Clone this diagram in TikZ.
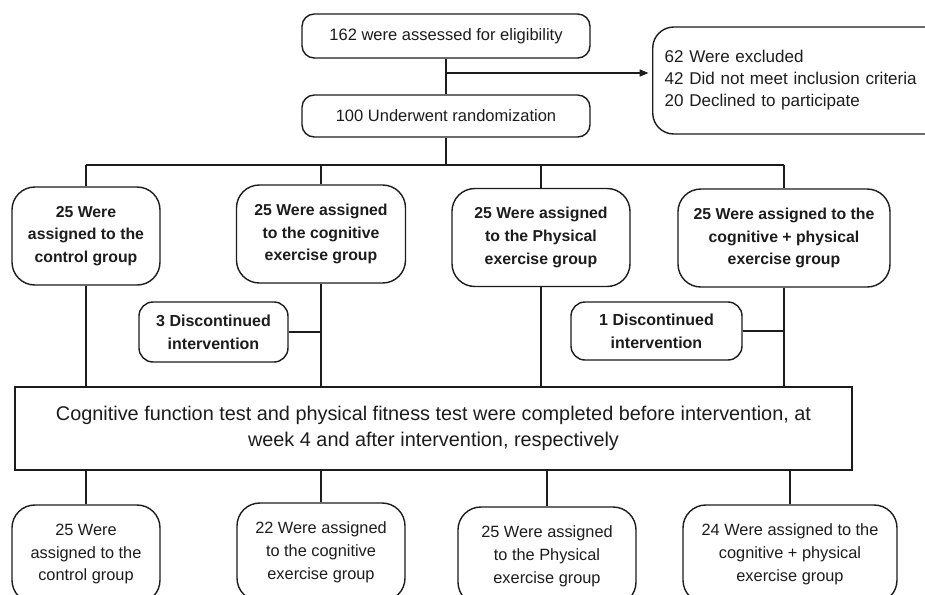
\documentclass[tikz,border=0pt]{standalone}
\usepackage{fontspec}
\setmainfont{Liberation Sans}
\usepackage{xcolor}
\definecolor{inkgray}{RGB}{28, 28, 28}
\usepackage{tikz}
\usetikzlibrary{arrows.meta}

\tikzset{
  link/.style={draw=inkgray,line width=0.8pt},
  flowbox/.style={draw=inkgray,line width=0.8pt,rounded corners=7pt,
    align=center,inner sep=2pt,text=inkgray,font=\fontsize{9.4}{11}\selectfont},
  exclbox/.style={draw=inkgray,line width=0.8pt,rounded corners=12pt,
    align=left,inner sep=0.24cm,text width=5.4cm,minimum height=2.14cm,
    text=inkgray,font=\fontsize{9.7}{12.5}\selectfont},
  groupbox/.style={draw=inkgray,line width=0.8pt,rounded corners=13pt,
    align=center,inner sep=2pt,minimum height=1.96cm,text=inkgray,
    font=\bfseries\fontsize{9}{13}\selectfont},
  dropbox/.style={draw=inkgray,line width=0.8pt,rounded corners=8pt,
    align=center,inner sep=2pt,text=inkgray,
    font=\bfseries\fontsize{9.1}{13}\selectfont},
  testbox/.style={draw=inkgray,line width=0.8pt,align=center,inner sep=2pt,
    text=inkgray,font=\fontsize{11.3}{14.5}\selectfont},
  resultbox/.style={draw=inkgray,line width=0.8pt,rounded corners=13pt,
    align=center,inner sep=2pt,minimum height=1.96cm,text=inkgray,
    font=\fontsize{9.3}{13}\selectfont}
}

\begin{document}
\begin{tikzpicture}
  \useasboundingbox (0,0) rectangle (18.5,-11.88);

  % screening
  \node[flowbox,minimum width=5.76cm,minimum height=0.88cm] (assess) at (8.92,-0.72)
    {162 were assessed for eligibility};
  \node[flowbox,minimum width=5.76cm,minimum height=0.84cm] (random) at (8.92,-2.32)
    {100 Underwent randomization};
  \node[exclbox,anchor=west] (excluded) at (13.04,-1.61)
    {62 Were excluded\\42 Did not meet inclusion criteria\\20 Declined to participate};
  \coordinate (split) at (8.92,-1.46);
  \draw[link] (assess) -- (random);
  \draw[link,-{Triangle[length=5pt,width=4pt]}] (split) -- ([xshift=-2pt]split -| excluded.west);

  % allocation
  \node[groupbox,minimum width=2.96cm] (ctrl) at (1.72,-4.72)
    {25 Were\\assigned to the\\control group};
  \node[groupbox,minimum width=3.38cm] (cogn) at (6.42,-4.68)
    {25 Were assigned\\to the cognitive\\exercise group};
  \node[groupbox,minimum width=3.56cm] (phys) at (10.82,-4.75)
    {25 Were assigned\\to the Physical\\exercise group};
  \node[groupbox,minimum width=4.24cm] (both) at (15.68,-4.76)
    {25 Were assigned to the\\cognitive + physical\\exercise group};
  \coordinate (bus) at (8.92,-3.3);
  \draw[link] (random) -- (bus);
  \draw[link] (ctrl.north |- bus) -- (both.north |- bus);
  \foreach \grp in {ctrl,cogn,phys,both}
    \draw[link] (\grp.north |- bus) -- (\grp.north);

  % dropouts
  \node[dropbox,minimum width=2.98cm,minimum height=1.2cm] (dropcogn) at (4.27,-6.64)
    {3 Discontinued\\intervention};
  \node[dropbox,minimum width=3.42cm,minimum height=1.16cm] (dropboth) at (13.13,-6.62)
    {1 Discontinued\\intervention};

  % tests
  \node[testbox,minimum width=16.74cm,minimum height=1.66cm] (tests) at (8.67,-8.57)
    {Cognitive function test and physical fitness test were completed before intervention, at\\
     week 4 and after intervention, respectively};
  \foreach \grp in {ctrl,cogn,phys,both}
    \draw[link] (\grp.south) -- (\grp.south |- tests.north);
  \draw[link] (dropcogn.east) -- (dropcogn.east -| cogn.south);
  \draw[link] (dropboth.east) -- (dropboth.east -| both.south);

  % analysis
  \node[resultbox,minimum width=2.96cm] (endctrl) at (1.72,-11.08)
    {25 Were\\assigned to the\\control group};
  \node[resultbox,minimum width=3.36cm] (endcogn) at (6.42,-11.04)
    {22 Were assigned\\to the cognitive\\exercise group};
  \node[resultbox,minimum width=3.56cm] (endphys) at (10.94,-11.12)
    {25 Were assigned\\to the Physical\\exercise group};
  \node[resultbox,minimum width=4.28cm] (endboth) at (15.8,-11.08)
    {24 Were assigned to the\\cognitive + physical\\exercise group};
  \foreach \grp in {endctrl,endcogn,endphys,endboth}
    \draw[link] (\grp.north |- tests.south) -- (\grp.north);
\end{tikzpicture}
\end{document}
